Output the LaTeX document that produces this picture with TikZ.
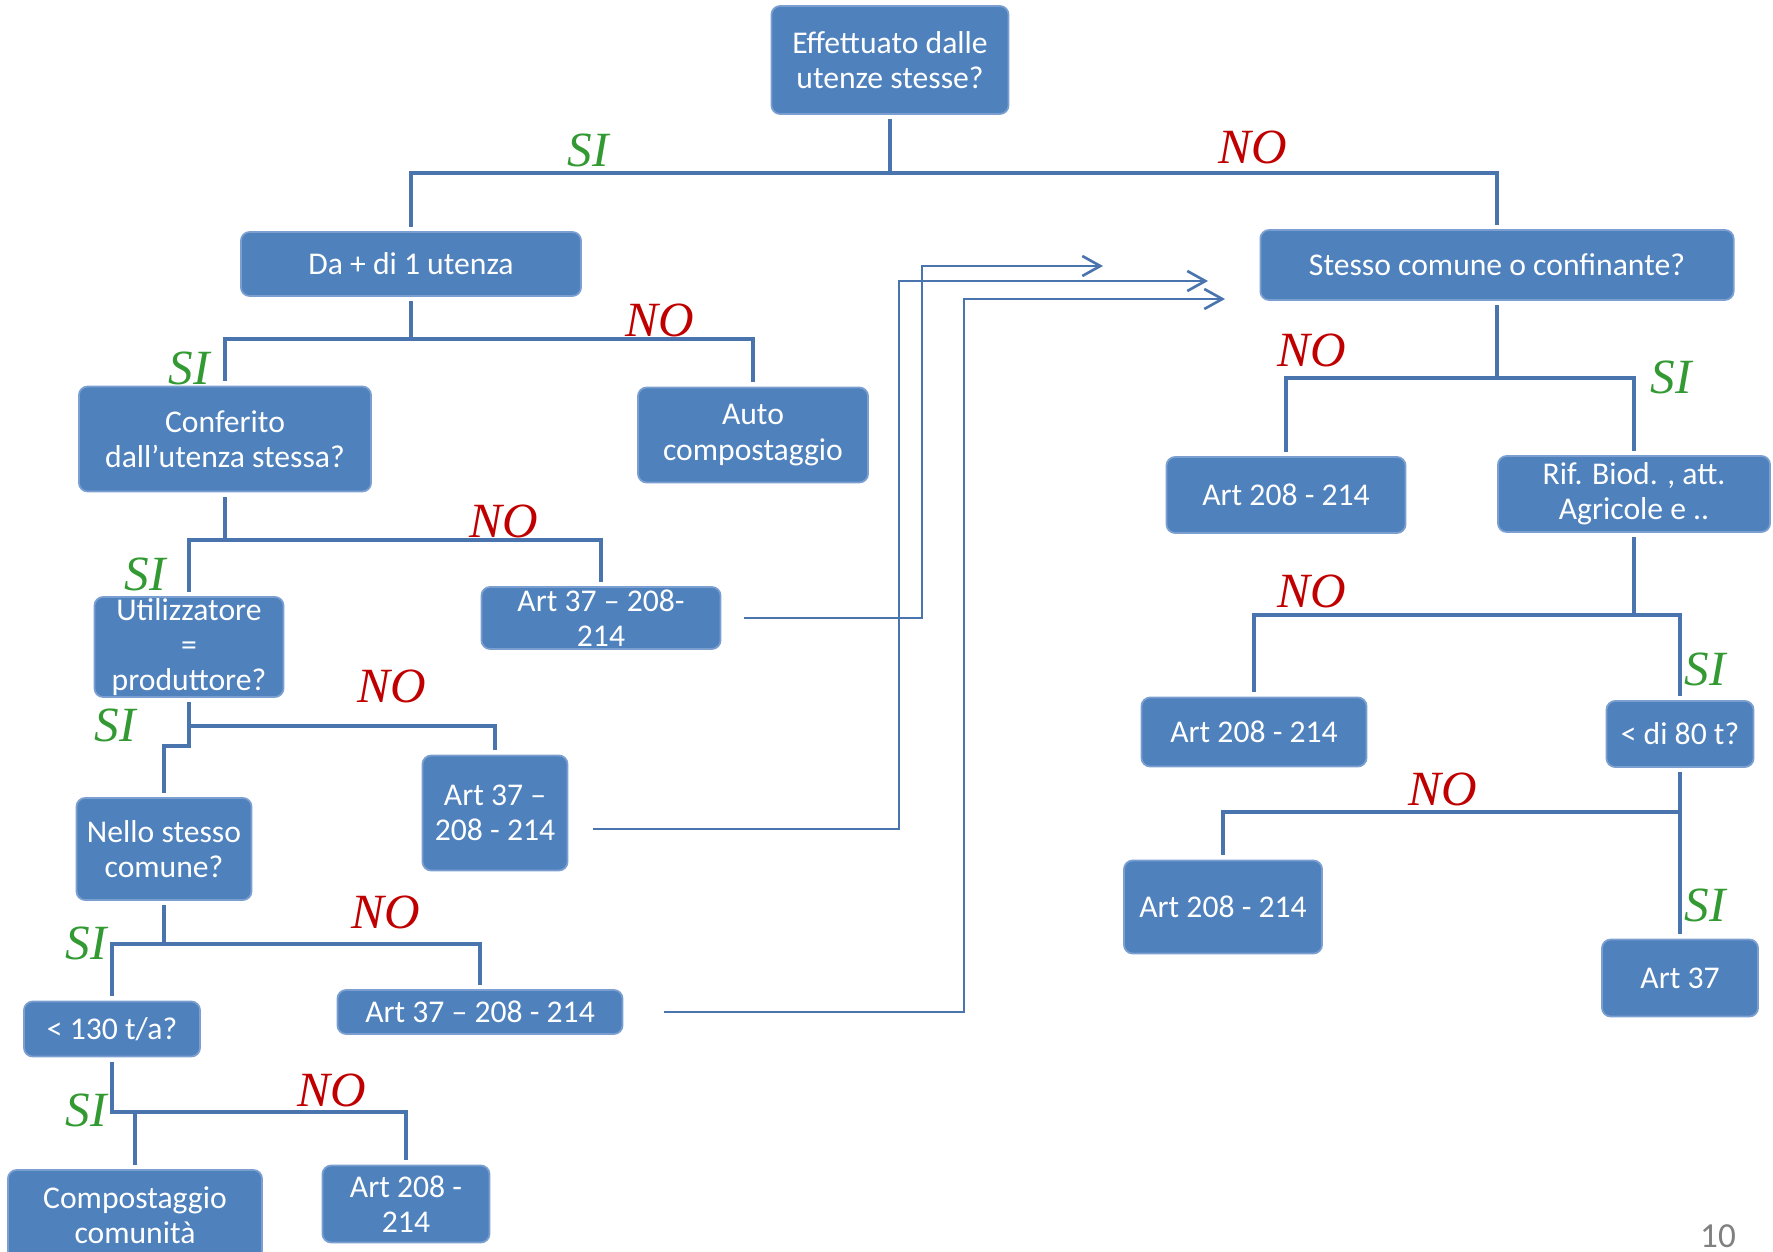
\documentclass[tikz,border=0pt]{standalone}
\usepackage{fontspec}
\setmainfont{Carlito}
\newfontfamily\answerfont{Liberation Serif}
\usetikzlibrary{arrows.meta}
\definecolor{flowBlue}{HTML}{4F81BD}
\definecolor{flowEdge}{HTML}{7A9FD0}
\definecolor{flowLine}{HTML}{4A74AD}
\definecolor{flowYes}{HTML}{339933}
\definecolor{flowNo}{HTML}{C00000}

\begin{document}
\begin{tikzpicture}[x=0.01cm,y=-0.01cm,
    box/.style={draw=flowEdge,line width=0.5pt,fill=flowBlue,rounded corners=2.5pt,
                text=white,align=center,inner sep=1pt,outer sep=1.5pt,
                font=\fontsize{9}{10}\selectfont},
    wire/.style={draw=flowLine,line width=1.4pt},
    jump/.style={draw=flowLine,line width=0.75pt,
                 -{Straight Barb[length=0.18cm,width=0.2cm]}},
    silbl/.style={text=flowYes,font=\fontsize{14}{14}\selectfont\answerfont\itshape},
    nolbl/.style={text=flowNo,font=\fontsize{14}{14}\selectfont\answerfont\itshape}]
  \useasboundingbox (0,0) rectangle (1773,1252);

  % left branch
  \node[box,minimum width=2.37cm,minimum height=1.08cm] (q1) at (890,60) {Effettuato dalle\\utenze stesse?};
  \node[box,minimum width=3.40cm,minimum height=0.64cm] (da) at (411,264) {Da + di 1 utenza};
  \node[box,minimum width=2.92cm,minimum height=1.05cm] (conf) at (225,439) {Conferito\\dall’utenza stessa?};
  \node[box,minimum width=2.30cm,minimum height=0.95cm] (auto) at (753,435) {Auto\\compostaggio};
  \node[box,minimum width=1.89cm,minimum height=1.00cm,inner ysep=0pt] (util) at (189,647) {Utilizzatore\\=\\produttore?};
  \node[box,minimum width=2.39cm,minimum height=0.62cm,inner ysep=0pt] (art37a) at (601,618) {Art 37 -- 208-\\214};
  \node[box,minimum width=1.45cm,minimum height=1.15cm] (art37b) at (495,813) {Art 37 --\\208 - 214};
  \node[box,minimum width=1.75cm,minimum height=1.02cm] (nello) at (164,849) {Nello stesso\\comune?};
  \node[box,minimum width=1.76cm,minimum height=0.55cm] (lt130) at (112,1029) {< 130 t/a?};
  \node[box,minimum width=2.85cm,minimum height=0.44cm] (art37c) at (480,1012) {Art 37 -- 208 - 214};
  \node[box,minimum width=2.54cm,minimum height=0.90cm] (comp) at (135,1215) {Compostaggio\\comunità};
  \node[box,minimum width=1.67cm,minimum height=0.77cm] (art208d) at (406,1204) {Art 208 -\\214};

  % right branch
  \node[box,minimum width=4.73cm,minimum height=0.70cm] (stesso) at (1497,265) {Stesso comune o confinante?};
  \node[box,minimum width=2.39cm,minimum height=0.76cm] (art208a) at (1286,495) {Art 208 - 214};
  \node[box,minimum width=2.72cm,minimum height=0.76cm] (rif) at (1634,494) {Rif. Biod. , att.\\Agricole e ..};
  \node[box,minimum width=2.25cm,minimum height=0.69cm] (art208b) at (1254,732) {Art 208 - 214};
  \node[box,minimum width=1.47cm,minimum height=0.66cm] (lt80) at (1680,734) {< di 80 t?};
  \node[box,minimum width=1.98cm,minimum height=0.93cm] (art208c) at (1223,907) {Art 208 - 214};
  \node[box,minimum width=1.56cm,minimum height=0.77cm] (art37) at (1680,978) {Art 37};

  % levels of the branches
  \coordinate (h1) at (0,173);
  \coordinate (h2) at (0,339);
  \coordinate (h3) at (0,540);
  \coordinate (h4) at (0,726);
  \coordinate (h5) at (0,944);
  \coordinate (h6) at (0,1112);
  \coordinate (r1) at (0,378);
  \coordinate (r2) at (0,615);
  \coordinate (r3) at (0,812);

  \draw[wire] (q1.south) -- (q1.south |- h1);
  \draw[wire] (da.north) |- (q1.south |- h1) -| (stesso.north);
  \draw[wire] (da.south) -- (da.south |- h2);
  \draw[wire] (conf.north) |- (da.south |- h2) -| (auto.north);
  \draw[wire] (conf.south) -- (conf.south |- h3);
  \draw[wire] (util.north) |- (conf.south |- h3) -| (art37a.north);
  \draw[wire] (util.south) -- (util.south |- h4) -| (art37b.north);
  \draw[wire] (util.south |- h4) -- ++(0,20) -| (nello.north);
  \draw[wire] (nello.south) -- (nello.south |- h5);
  \draw[wire] (lt130.north) |- (nello.south |- h5) -| (art37c.north);
  \draw[wire] (lt130.south) -- (lt130.south |- h6) -| (art208d.north);
  \draw[wire] (lt130.south |- h6) -| (comp.north);

  \draw[wire] (stesso.south) -- (stesso.south |- r1);
  \draw[wire] (art208a.north) |- (stesso.south |- r1) -| (rif.north);
  \draw[wire] (rif.south) -- (rif.south |- r2) -| (art208b.north);
  \draw[wire] (rif.south |- r2) -| (lt80.north);
  \draw[wire] (lt80.south) -- (art37.north);
  \draw[wire] (lt80.south |- r3) -| (art208c.north);

  % jumps to the right side
  \coordinate (bend1) at (922,266);
  \coordinate (tip1) at (1103,266);
  \coordinate (bend2) at (899,281);
  \coordinate (tip2) at (1208,281);
  \coordinate (bend3) at (964,299);
  \coordinate (tip3) at (1225,299);
  \draw[jump,shorten <=0.18cm] (art37a.east) -| (bend1) -- (tip1);
  \draw[jump,shorten <=0.2cm] ([yshift=-0.16cm]art37b.east) -| (bend2) -- (tip2);
  \draw[jump,shorten <=0.36cm] (art37c.east) -| (bend3) -- (tip3);

  % answers
  \node[silbl] (si1) at (588,150) {SI};
  \node[nolbl] (no1) at (1253,147) {NO};
  \node[nolbl] (no2) at (660,320) {NO};
  \node[silbl] (si2) at (189,368) {SI};
  \node[nolbl] (no3) at (504,521) {NO};
  \node[silbl] (si3) at (145,574) {SI};
  \node[nolbl] (no4) at (392,686) {NO};
  \node[silbl] (si4) at (115,725) {SI};
  \node[nolbl] (no5) at (386,912) {NO};
  \node[silbl] (si5) at (86,943) {SI};
  \node[nolbl] (no6) at (332,1090) {NO};
  \node[silbl] (si6) at (86,1110) {SI};
  \node[nolbl] (no7) at (1312,350) {NO};
  \node[silbl] (si7) at (1671,377) {SI};
  \node[nolbl] (no8) at (1312,591) {NO};
  \node[silbl] (si8) at (1705,669) {SI};
  \node[nolbl] (no9) at (1443,789) {NO};
  \node[silbl] (si9) at (1705,905) {SI};

  \node[text=gray,font=\fontsize{10}{10}\selectfont] (pagenum) at (1718,1236) {10};
\end{tikzpicture}
\end{document}
